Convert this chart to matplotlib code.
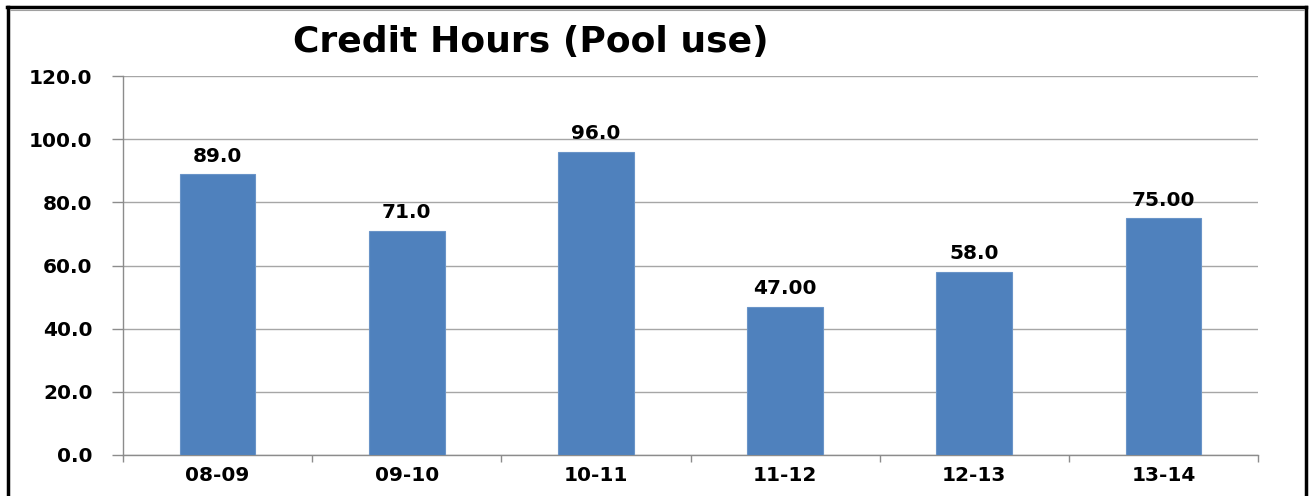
import matplotlib
matplotlib.use("Agg")
import matplotlib.pyplot as plt
from matplotlib.lines import Line2D

categories = ["08-09", "09-10", "10-11", "11-12", "12-13", "13-14"]
values = [89.0, 71.0, 96.0, 47.0, 58.0, 75.0]
value_labels = ["89.0", "71.0", "96.0", "47.00", "58.0", "75.00"]
y_ticks = [0, 20, 40, 60, 80, 100, 120]
y_tick_labels = ["0.0", "20.0", "40.0", "60.0", "80.0", "100.0", "120.0"]
title = "Credit Hours (Pool use)"

W, H = 1312, 496
fig = plt.figure(figsize=(W / 100, H / 100), dpi=100)
fig.patch.set_facecolor("white")
plt.rcParams["font.family"] = ["DejaVu Sans"]

ax = fig.add_axes([123 / W, 41 / H, (1258 - 123) / W, (455 - 76) / H])
x = list(range(len(categories)))
ax.bar(x, values, width=0.4, color="#4F81BD", edgecolor="#6A94C8", linewidth=0.8, zorder=3)
ax.set_xlim(-0.5, len(categories) - 0.5)
ax.set_ylim(0, 120)

ax.set_yticks(y_ticks)
ax.set_yticklabels(y_tick_labels, fontsize=14.5, fontweight="bold")
ax.tick_params(axis="y", length=8, width=1, color="#8C8C8C", pad=14)
ax.yaxis.grid(True, color="#A6A6A6", linewidth=1, zorder=0)
ax.set_axisbelow(True)

ax.set_xticks(x)
ax.set_xticklabels(categories, fontsize=14.5, fontweight="bold")
ax.set_xticks([i - 0.5 for i in range(len(categories) + 1)], minor=True)
ax.tick_params(axis="x", which="major", length=0, pad=8)
ax.tick_params(axis="x", which="minor", length=5, width=1, color="#8C8C8C")

for s in ["top", "right"]:
    ax.spines[s].set_visible(False)
for s in ["left", "bottom"]:
    ax.spines[s].set_color("#8C8C8C")
    ax.spines[s].set_linewidth(1)

for xi, v, lab in zip(x, values, value_labels):
    ax.annotate(lab, (xi, v), xytext=(0, 6), textcoords="offset points",
                ha="center", va="bottom", fontsize=14.5, fontweight="bold", zorder=4)

fig.text(531 / W, 1 - 42 / H, title, ha="center", va="center",
         fontsize=26, fontweight="bold")

# outer frame (top, left, right)
fig.add_artist(Line2D([7 / W, 1306 / W], [1 - 7 / H, 1 - 7 / H], color="black", lw=2.5, transform=fig.transFigure))
fig.add_artist(Line2D([8 / W, 8 / W], [0, 1 - 7 / H], color="black", lw=2.5, transform=fig.transFigure))
fig.add_artist(Line2D([1306 / W, 1306 / W], [0, 1 - 7 / H], color="black", lw=2.5, transform=fig.transFigure))
fig.add_artist(Line2D([10 / W, 1304 / W], [1 - 10 / H, 1 - 10 / H], color="#A0A0A0", lw=0.8, transform=fig.transFigure))

fig.savefig("out.png", dpi=100)
